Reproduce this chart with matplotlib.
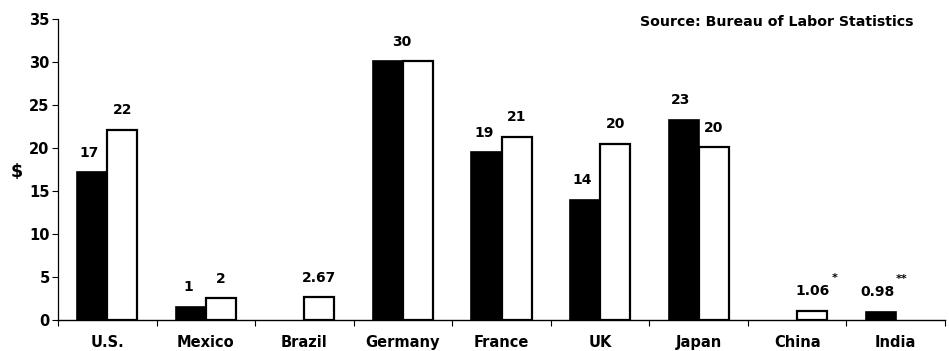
import matplotlib
matplotlib.use("Agg")
import matplotlib.pyplot as plt
from matplotlib.ticker import FixedLocator
import numpy as np

plt.rcParams['font.family'] = ['DejaVu Sans']
plt.rcParams['font.weight'] = 'bold'

countries = ["U.S.", "Mexico", "Brazil", "Germany", "France", "UK", "Japan", "China", "India"]
black_vals = [17.2, 1.55, None, 30.1, 19.5, 14.0, 23.3, None, 0.98]
white_vals = [22.1, 2.55, 2.67, 30.1, 21.3, 20.5, 20.1, 1.06, None]
black_labels = ["17", "1", None, None, "19", "14", "23", None, "0.98"]
white_labels = ["22", "2", "2.67", None, "21", "20", "20", "1.06", None]
shared_labels = {"Germany": "30"}
footnote_marks = {"China": "*", "India": "**"}
yticks = [0, 5, 10, 15, 20, 25, 30, 35]
source_text = "Source: Bureau of Labor Statistics"
ylabel = "$"

fig = plt.figure(figsize=(9.49, 3.51), dpi=100)
ax = fig.add_axes([58/949, 1-320/351, 887/949, 301/351])

VFS = 10
x = np.arange(len(countries))
w = 0.305
for i, c in enumerate(countries):
    bv = black_vals[i]
    wv = white_vals[i]
    if bv is not None:
        ax.bar(x[i] - w/2, bv, width=w, color="black", edgecolor="black", linewidth=1.2)
        if black_labels[i]:
            ax.annotate(black_labels[i], (x[i] - w/2, bv), xytext=(-2, 9), textcoords="offset points",
                        ha="center", va="bottom", fontsize=VFS, fontweight="bold")
            if c in footnote_marks:
                ax.annotate(footnote_marks[c], (x[i] - w/2, bv), xytext=(15, 20), textcoords="offset points",
                            ha="center", va="bottom", fontsize=8, fontweight="bold")
    if wv is not None:
        ax.bar(x[i] + w/2, wv, width=w, color="white", edgecolor="black", linewidth=1.6)
        if white_labels[i]:
            ax.annotate(white_labels[i], (x[i] + w/2, wv), xytext=(0, 9), textcoords="offset points",
                        ha="center", va="bottom", fontsize=VFS, fontweight="bold")
            if c in footnote_marks:
                ax.annotate(footnote_marks[c], (x[i] + w/2, wv), xytext=(16, 20), textcoords="offset points",
                            ha="center", va="bottom", fontsize=8, fontweight="bold")
    if c in shared_labels:
        top = max(v for v in (bv, wv) if v is not None)
        ax.annotate(shared_labels[c], (x[i], top), xytext=(-1, 9), textcoords="offset points",
                    ha="center", va="bottom", fontsize=VFS, fontweight="bold")

ax.set_xlim(-0.5, len(countries) - 0.5)
ax.set_ylim(0, 35)
ax.set_yticks(yticks)
ax.set_yticklabels([str(t) for t in yticks], fontsize=10.5, fontweight="bold")
ax.set_xticks(x)
ax.set_xticklabels(countries, fontsize=10.5, fontweight="bold")
ax.xaxis.set_minor_locator(FixedLocator(np.arange(-0.5, len(countries), 1.0)))
ax.tick_params(axis="x", which="major", length=0, pad=11)
ax.tick_params(axis="x", which="minor", length=4, direction="out", width=0.8)
ax.tick_params(axis="y", which="major", length=4, direction="out", width=0.8, pad=2)

for s in ["top", "right"]:
    ax.spines[s].set_visible(False)
ax.spines["left"].set_linewidth(0.9)
ax.spines["bottom"].set_linewidth(1.0)

fig.text(17/949, 1-172/351, ylabel, ha="center", va="center", fontsize=12.5, fontweight="bold")
fig.text(914/949, 1-22/351, source_text, ha="right", va="center", fontsize=10.2, fontweight="bold")

fig.savefig("out.png", dpi=100)
